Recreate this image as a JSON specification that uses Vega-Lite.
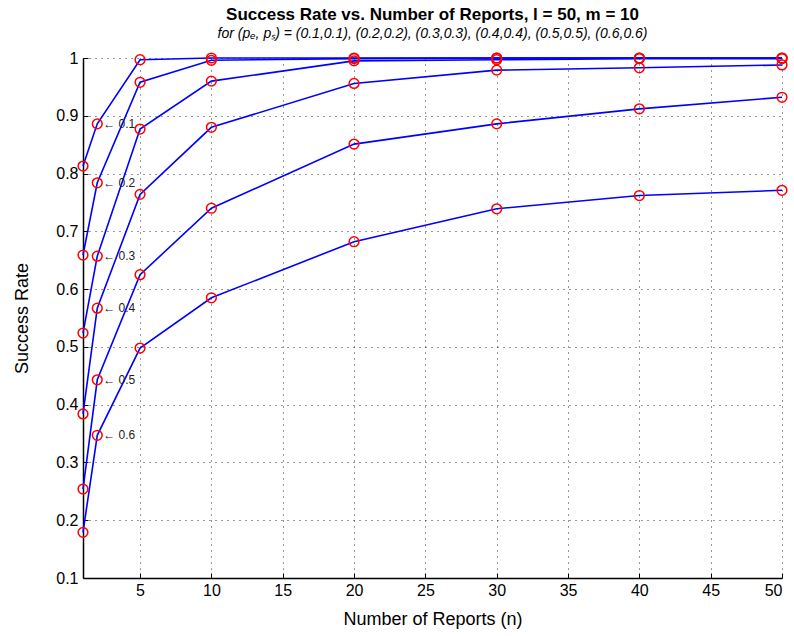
{
  "$schema": "https://vega.github.io/schema/vega-lite/v6.json",
  "autosize": {"type": "none"},
  "width": 699,
  "height": 520,
  "padding": {"left": 83, "top": 58, "right": 12, "bottom": 58},
  "background": "white",
  "title": {
    "text": "Success Rate vs. Number of Reports,   l = 50, m = 10",
    "subtitle": "for   (pₑ, pₛ) = (0.1,0.1), (0.2,0.2), (0.3,0.3), (0.4,0.4), (0.5,0.5), (0.6,0.6)",
    "anchor": "middle",
    "font": "Liberation Sans",
    "fontSize": 17,
    "fontWeight": "bold",
    "color": "black",
    "subtitleFont": "Liberation Sans",
    "subtitleFontSize": 14,
    "subtitleFontStyle": "italic",
    "subtitleColor": "black",
    "subtitlePadding": 3,
    "offset": 8
  },
  "config": {
    "view": {"stroke": null},
    "axis": {
      "labelFont": "Liberation Sans",
      "titleFont": "Liberation Sans",
      "labelColor": "black",
      "titleColor": "black",
      "labelFontSize": 16,
      "titleFontSize": 18,
      "titleFontWeight": "normal",
      "domainColor": "black",
      "domainWidth": 1.5,
      "tickColor": "black",
      "tickSize": -5,
      "gridColor": "black",
      "gridDash": [1, 5],
      "gridOpacity": 0.8,
      "gridWidth": 1
    }
  },
  "datasets": {
    "curves": [
      {"n": 1, "series": "0.1", "rate": 0.813},
      {"n": 2, "series": "0.1", "rate": 0.886},
      {"n": 5, "series": "0.1", "rate": 0.997},
      {"n": 10, "series": "0.1", "rate": 1.0},
      {"n": 20, "series": "0.1", "rate": 1.0},
      {"n": 30, "series": "0.1", "rate": 1.0},
      {"n": 40, "series": "0.1", "rate": 1.0},
      {"n": 50, "series": "0.1", "rate": 1.0},
      {"n": 1, "series": "0.2", "rate": 0.659},
      {"n": 2, "series": "0.2", "rate": 0.784},
      {"n": 5, "series": "0.2", "rate": 0.958},
      {"n": 10, "series": "0.2", "rate": 0.996},
      {"n": 20, "series": "0.2", "rate": 0.999},
      {"n": 30, "series": "0.2", "rate": 1.0},
      {"n": 40, "series": "0.2", "rate": 1.0},
      {"n": 50, "series": "0.2", "rate": 1.0},
      {"n": 1, "series": "0.3", "rate": 0.524},
      {"n": 2, "series": "0.3", "rate": 0.657},
      {"n": 5, "series": "0.3", "rate": 0.877},
      {"n": 10, "series": "0.3", "rate": 0.960},
      {"n": 20, "series": "0.3", "rate": 0.995},
      {"n": 30, "series": "0.3", "rate": 0.997},
      {"n": 40, "series": "0.3", "rate": 0.999},
      {"n": 50, "series": "0.3", "rate": 0.999},
      {"n": 1, "series": "0.4", "rate": 0.384},
      {"n": 2, "series": "0.4", "rate": 0.567},
      {"n": 5, "series": "0.4", "rate": 0.764},
      {"n": 10, "series": "0.4", "rate": 0.880},
      {"n": 20, "series": "0.4", "rate": 0.956},
      {"n": 30, "series": "0.4", "rate": 0.979},
      {"n": 40, "series": "0.4", "rate": 0.983},
      {"n": 50, "series": "0.4", "rate": 0.988},
      {"n": 1, "series": "0.5", "rate": 0.254},
      {"n": 2, "series": "0.5", "rate": 0.443},
      {"n": 5, "series": "0.5", "rate": 0.625},
      {"n": 10, "series": "0.5", "rate": 0.740},
      {"n": 20, "series": "0.5", "rate": 0.851},
      {"n": 30, "series": "0.5", "rate": 0.886},
      {"n": 40, "series": "0.5", "rate": 0.912},
      {"n": 50, "series": "0.5", "rate": 0.932},
      {"n": 1, "series": "0.6", "rate": 0.179},
      {"n": 2, "series": "0.6", "rate": 0.347},
      {"n": 5, "series": "0.6", "rate": 0.498},
      {"n": 10, "series": "0.6", "rate": 0.585},
      {"n": 20, "series": "0.6", "rate": 0.682},
      {"n": 30, "series": "0.6", "rate": 0.739},
      {"n": 40, "series": "0.6", "rate": 0.762},
      {"n": 50, "series": "0.6", "rate": 0.771}
    ],
    "labels": [
      {"n": 2, "rate": 0.886, "label": "← 0.1"},
      {"n": 2, "rate": 0.784, "label": "← 0.2"},
      {"n": 2, "rate": 0.657, "label": "← 0.3"},
      {"n": 2, "rate": 0.567, "label": "← 0.4"},
      {"n": 2, "rate": 0.443, "label": "← 0.5"},
      {"n": 2, "rate": 0.347, "label": "← 0.6"}
    ]
  },
  "encoding": {
    "x": {
      "field": "n",
      "type": "quantitative",
      "scale": {"domain": [1, 50], "nice": false, "zero": false},
      "axis": {
        "values": [5, 10, 15, 20, 25, 30, 35, 40, 45, 50],
        "title": "Number of Reports (n)",
        "labelPadding": 9,
        "titlePadding": 12
      }
    },
    "y": {
      "field": "rate",
      "type": "quantitative",
      "scale": {"domain": [0.1, 1], "nice": false, "zero": false},
      "axis": {
        "values": [0.1, 0.2, 0.3, 0.4, 0.5, 0.6, 0.7, 0.8, 0.9, 1],
        "format": ".1~f",
        "title": "Success Rate",
        "labelPadding": 10,
        "titlePadding": 24
      }
    }
  },
  "layer": [
    {
      "data": {"name": "curves"},
      "mark": {"type": "line", "color": "#0000ff", "strokeWidth": 1.6},
      "encoding": {"detail": {"field": "series"}}
    },
    {
      "data": {"name": "curves"},
      "mark": {"type": "point", "shape": "circle", "filled": false, "color": "#ff0000", "size": 95, "strokeWidth": 1.5, "opacity": 1}
    },
    {
      "data": {"name": "labels"},
      "mark": {"type": "text", "align": "left", "baseline": "middle", "dx": 6, "font": "Liberation Sans", "fontSize": 12, "color": "#222222"},
      "encoding": {"text": {"field": "label"}}
    }
  ]
}
